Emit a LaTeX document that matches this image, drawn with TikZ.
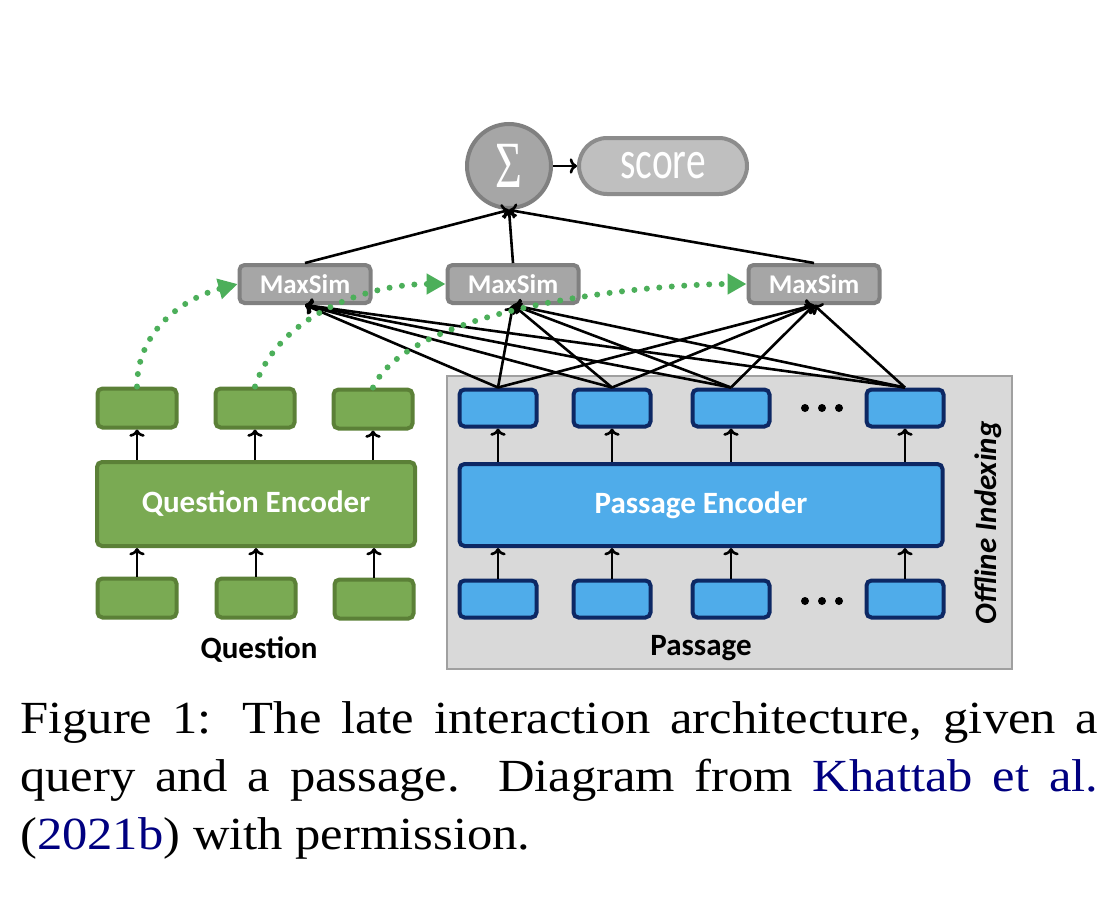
\documentclass[tikz,border=0pt]{standalone}
\usepackage{fontspec}
\setmainfont{Liberation Serif}
\newfontfamily\calibri{Carlito}
\usetikzlibrary{arrows.meta}
\definecolor{qfill}{RGB}{122,170,83}
\definecolor{qborder}{RGB}{91,128,55}
\definecolor{pfill}{RGB}{79,172,234}
\definecolor{pborder}{RGB}{13,40,100}
\definecolor{msfill}{RGB}{166,166,166}
\definecolor{msborder}{RGB}{128,128,128}
\definecolor{scfill}{RGB}{191,191,191}
\definecolor{scborder}{RGB}{140,140,140}
\definecolor{offfill}{RGB}{217,217,217}
\definecolor{offborder}{RGB}{160,160,160}
\definecolor{lategreen}{RGB}{76,175,90}
\definecolor{citeblue}{RGB}{0,0,128}
\begin{document}
\begin{tikzpicture}[x=1pt,y=-1pt]
			\tikzstyle{QV}=[rectangle,rounded corners=5pt,draw=qborder,fill=qfill,line width=4pt,minimum width=79pt,minimum height=39pt,inner sep=0pt]
			\tikzstyle{PV}=[rectangle,rounded corners=5pt,draw=pborder,fill=pfill,line width=4pt,minimum width=77pt,minimum height=37pt,inner sep=0pt]
			\tikzstyle{ENC}=[rectangle,rounded corners=5pt,line width=4pt,inner sep=0pt,text=white,font=\calibri\bfseries\fontsize{31}{31}\selectfont]
			\tikzstyle{MS}=[rectangle,rounded corners=5pt,draw=msborder,fill=msfill,line width=4pt,minimum width=131pt,minimum height=38pt,inner sep=0pt,text=white,font=\calibri\bfseries\fontsize{27}{27}\selectfont]
			\tikzstyle{LBL}=[inner sep=0pt,font=\calibri\bfseries\fontsize{31}{31}\selectfont]
			\tikzstyle{link}=[->,line width=2.6pt]
			\tikzstyle{late}=[draw=lategreen,line width=6pt,line cap=round,dash pattern=on 0pt off 12.5pt,-{Triangle[length=19pt,width=20pt]}]

			\path[fill=white] (0,0) rectangle (1114,902);
			\useasboundingbox (0,0) rectangle (1114,902);

			% offline indexing area
			\draw[fill=offfill,draw=offborder,line width=2pt] (447,376) rectangle (1012,669);

			\begin{scope}
			% question side
			\node[QV] (qv1) at (137,408) {};
			\node[QV] (qv2) at (255,408) {};
			\node[QV] (qv3) at (373,409) {};
			\node[ENC,draw=qborder,fill=qfill,minimum width=318pt,minimum height=84pt] (qenc) at (256,504) {Question Encoder};
			\node[QV] (qin1) at (137,598) {};
			\node[QV] (qin2) at (256,598) {};
			\node[QV] (qin3) at (374,599) {};
			\node[LBL] (qlabel) at (259,650) {Question};

			% passage side
			\node[PV] (pv1) at (498,408) {};
			\node[PV] (pv2) at (612,408) {};
			\node[PV] (pv3) at (731,408) {};
			\node[PV] (pv4) at (905,408) {};
			\node[ENC,draw=pborder,fill=pfill,minimum width=483pt,minimum height=82pt] (penc) at (701,505) {Passage Encoder};
			\node[PV] (pin1) at (498,599) {};
			\node[PV] (pin2) at (612,599) {};
			\node[PV] (pin3) at (731,599) {};
			\node[PV] (pin4) at (905,599) {};
			\node[LBL] (plabel) at (701,648) {Passage};
			\node[LBL,rotate=90,font=\calibri\bfseries\itshape\fontsize{31}{31}\selectfont] (offline) at (988,523) {Offline Indexing};

			% scoring
			\node[MS] (ms1) at (305,284) {MaxSim};
			\node[MS] (ms2) at (513,284) {MaxSim};
			\node[MS] (ms3) at (814,284) {MaxSim};
			\node[circle,draw=msborder,fill=msfill,line width=4pt,minimum size=84pt,inner sep=0pt,text=white,font=\fontsize{66}{66}\selectfont] (sum) at (509,166) {\scalebox{0.7}[1]{Σ}};
			\node[rectangle,rounded corners=28pt,draw=scborder,fill=scfill,line width=4pt,minimum width=168pt,minimum height=56pt,inner sep=0pt,text=white,font=\calibri\fontsize{54}{54}\selectfont] (score) at (663,166) {\scalebox{0.73}[1]{score}};
			\end{scope}

			\foreach \y in {408,601}
			  \foreach \x in {805,822,839}
			    \fill (\x,\y) circle (4pt);

			\foreach \i in {1,2,3} {
			  \draw[link] (qenc.north -| qv\i) -- (qv\i.south);
			  \draw[link] (qin\i.north) -- (qenc.south -| qin\i);
			}
			\foreach \i in {1,...,4} {
			  \draw[link] (penc.north -| pv\i) -- (pv\i.south);
			  \draw[link] (pin\i.north) -- (penc.south -| pin\i);
			  \foreach \m in {1,2,3}
			    \draw[link] (pv\i.north) -- (ms\m.south);
			}

			\path[link]
			(ms1.north) edge (sum.south)
			(ms2.north) edge (sum.south)
			(ms3.north) edge (sum.south)
			(sum) edge (score)
			;

			% late interaction
			\draw[late] (qv1.north) to[out=90,in=195] (ms1.west);
			\draw[late] (qv2.north) to[out=72,in=180,looseness=0.9] (ms2.west);
			\draw[late] (qv3.north) to[out=65,in=180,looseness=0.6] (ms3.west);

			% caption
			\node[anchor=base west,inner sep=0pt] (caption) at (20,733) {\scalebox{1.1}[1]{\parbox[t]{980pt}{\fontsize{46}{58}\selectfont Figure 1: The late interaction architecture, given a\linebreak query and a passage. Diagram from \textcolor{citeblue}{Khattab et al.}\linebreak (\textcolor{citeblue}{2021b}) with permission.}}};
		\end{tikzpicture}
\end{document}
